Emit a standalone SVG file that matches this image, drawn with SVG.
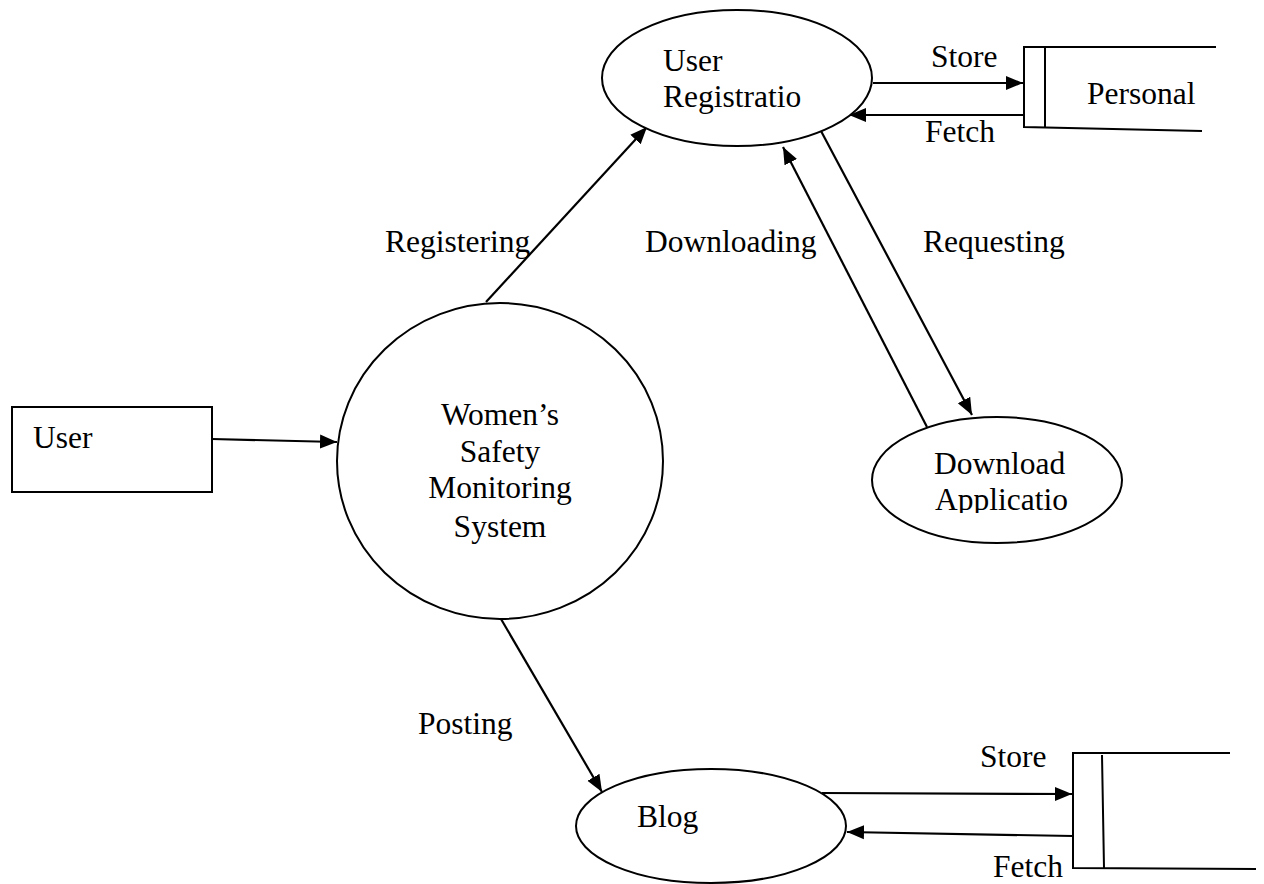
<svg xmlns="http://www.w3.org/2000/svg" width="1264" height="884" viewBox="0 0 1264 884">
  <style>
    .shape { fill: #ffffff; stroke: #000000; stroke-width: 2; }
    .line { fill: none; stroke: #000000; stroke-width: 2; }
    .flow { fill: none; stroke: #000000; stroke-width: 2.2; marker-end: url(#arrow); }
    text { font-family: "Liberation Serif", "Times New Roman", serif; font-size: 31.5px; fill: #000000; }
    .mid { text-anchor: middle; }
  </style>
  <defs>
    <marker id="arrow" markerUnits="userSpaceOnUse" markerWidth="18" markerHeight="16" refX="17" refY="8" orient="auto">
      <path d="M0,1 L17,8 L0,15 z" fill="#000000"/>
    </marker>
    <clipPath id="clipDownload">
      <rect x="860" y="420" width="280" height="93"/>
    </clipPath>
  </defs>

  <rect width="1264" height="884" fill="#ffffff"/>

  <!-- connectors -->
  <g id="connectors">
    <line class="flow" x1="212" y1="439" x2="337" y2="442"/>
    <line class="flow" x1="486" y1="302" x2="647" y2="127"/>
    <line class="flow" x1="873" y1="83" x2="1023" y2="83"/>
    <line class="flow" x1="1023" y1="115" x2="849" y2="115"/>
    <line class="flow" x1="927" y1="427" x2="783" y2="147"/>
    <line class="flow" x1="821" y1="131" x2="972" y2="415"/>
    <line class="flow" x1="501" y1="619" x2="602" y2="792"/>
    <line class="flow" x1="822" y1="793" x2="1072" y2="794"/>
    <line class="flow" x1="1073" y1="836" x2="847" y2="832"/>
  </g>

  <!-- flow labels -->
  <g id="labels">
    <text x="385" y="252">Registering</text>
    <text x="645" y="252">Downloading</text>
    <text x="923" y="252">Requesting</text>
    <text x="931" y="67">Store</text>
    <text x="925" y="142">Fetch</text>
    <text x="418" y="734">Posting</text>
    <text x="980" y="767">Store</text>
    <text x="993" y="877">Fetch</text>
  </g>

  <!-- external entity -->
  <g id="user">
    <rect class="shape" x="12" y="407" width="200" height="85"/>
    <text x="33" y="448">User</text>
  </g>

  <!-- main process -->
  <g id="system">
    <ellipse class="shape" cx="500" cy="461" rx="163" ry="158"/>
    <text class="mid" x="500" y="425">Women’s</text>
    <text class="mid" x="500" y="462">Safety</text>
    <text class="mid" x="500" y="498">Monitoring</text>
    <text class="mid" x="500" y="537">System</text>
  </g>

  <!-- sub processes -->
  <g id="registration">
    <ellipse class="shape" cx="737" cy="78" rx="135" ry="68"/>
    <text x="663" y="71">User</text>
    <text x="663" y="107">Registratio</text>
  </g>

  <g id="download">
    <ellipse class="shape" cx="997" cy="480" rx="125" ry="63"/>
    <g clip-path="url(#clipDownload)">
      <text x="934" y="474">Download</text>
      <text x="935" y="510">Applicatio</text>
    </g>
  </g>

  <g id="blog">
    <ellipse class="shape" cx="711" cy="826" rx="135" ry="57"/>
    <text x="637" y="827">Blog</text>
  </g>

  <!-- data stores -->
  <g id="personal-store">
    <path class="line" d="M1216,47 H1024 V127 L1202,131 M1045,47 V127"/>
    <text x="1087" y="104">Personal</text>
  </g>

  <g id="blog-store">
    <path class="line" d="M1230,753 H1073 V868 L1256,869 M1102,755 L1104,868"/>
  </g>
</svg>
